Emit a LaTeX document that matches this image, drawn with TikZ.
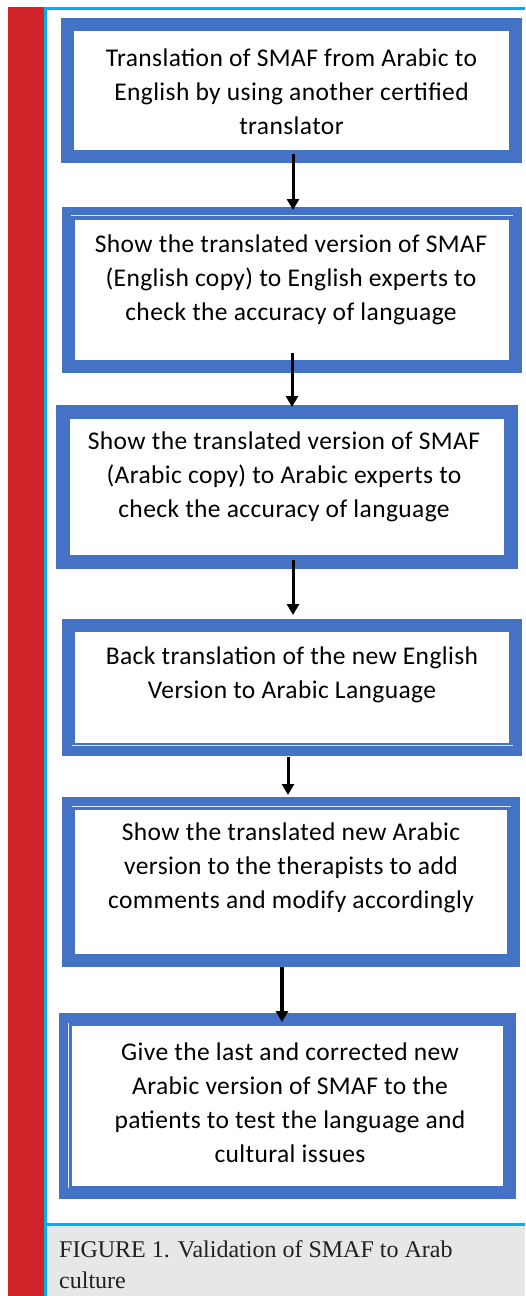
\documentclass[tikz,border=0pt]{standalone}
\usepackage{fontspec}
\setmainfont{Carlito}[LetterSpace=1.5]
\newfontfamily\capfont{Liberation Serif}
\usetikzlibrary{arrows.meta}
\definecolor{boxblue}{HTML}{4472C4}
\definecolor{barred}{HTML}{D0232A}
\definecolor{rulecyan}{HTML}{00B0F0}
\definecolor{capgray}{HTML}{E6E7E8}
\definecolor{captext}{HTML}{231F20}
\tikzset{
  flowbox/.style={draw=boxblue, line width=13pt, fill=white, inner sep=0pt},
  boxtext/.style={align=center, inner sep=0pt, text=black, font=\fontsize{25.5}{34}\selectfont},
  flowarrow/.style={draw=black, line width=3pt, -{Triangle[width=12pt,length=11pt]}},
  thinline/.style={draw=white!85!boxblue, line width=1pt}
}
\begin{document}
\begin{tikzpicture}[x=1pt,y=-1pt]
\useasboundingbox (0,0) rectangle (525,1296);
\fill[white] (0,0) rectangle (525,1296);
% left red bar and frame
\fill[barred] (8,7) rectangle (44,1296);
\fill[rulecyan] (44,7) rectangle (525,9.5);
\fill[rulecyan] (44,7) rectangle (46.5,1296);
\fill[rulecyan] (46.5,1222.5) rectangle (525,1226);
\fill[capgray] (46.5,1226) rectangle (525,1296);

% boxes
\node[flowbox, minimum width=448pt, minimum height=132pt] (b1) at (291.5,90.5) {};
\node[flowbox, minimum width=447pt, minimum height=153pt] (b2) at (292,290) {};
\node[flowbox, minimum width=448pt, minimum height=150pt, line width=14pt] (b3) at (287,487) {};
\node[flowbox, minimum width=447pt, minimum height=124pt] (b4) at (292,687.5) {};
\node[flowbox, minimum width=445pt, minimum height=157pt] (b5) at (291,882) {};
\node[flowbox, minimum width=444pt, minimum height=173pt] (b6) at (287.5,1106) {};

% thin inner lines of the borders
\draw[thinline] ([xshift=9pt,yshift=-8.5pt]b2.north west) -- ([xshift=-9pt,yshift=-8.5pt]b2.north east);
\draw[thinline] ([xshift=10pt,yshift=11pt]b4.south west) -- ([xshift=-9pt,yshift=11pt]b4.south east);
\draw[thinline] ([xshift=10pt,yshift=-9pt]b5.north west) -- ([xshift=-9pt,yshift=-9pt]b5.north east);
\draw[thinline] ([xshift=9pt,yshift=-10pt]b6.north west) -- ([xshift=9pt,yshift=11pt]b6.south west);

% texts
\node[boxtext] (t1) at (291.5,92) {Translation of SMAF from Arabic to\\English by using another certified\\translator};
\node[boxtext] (t2) at (291,280) {Show the translated version of SMAF\\(English copy) to English experts to\\check the accuracy of language};
\node[boxtext] (t3) at (284,477) {Show the translated version of SMAF\\(Arabic copy) to Arabic experts to\\check the accuracy of language};
\node[boxtext] (t4) at (292,674.5) {Back translation of the new English\\Version to Arabic Language};
\node[boxtext] (t5) at (291,868) {Show the translated new Arabic\\version to the therapists to add\\comments and modify accordingly};
\node[boxtext] (t6) at (290,1102.5) {Give the last and corrected new\\Arabic version of SMAF to the\\patients to test the language and\\cultural issues};

% arrows
\coordinate (x1) at (293,0);
\coordinate (x2) at (292,0);
\coordinate (x3) at (293,0);
\coordinate (x4) at (288,0);
\coordinate (x5) at (282,0);
\draw[flowarrow] ([yshift=9pt]b1.south -| x1) -- ([yshift=-3pt]b2.north -| x1);
\draw[flowarrow] ([yshift=20pt]b2.south -| x2) -- ([yshift=-2pt]b3.north -| x2);
\draw[flowarrow] ([yshift=9pt]b3.south -| x3) -- ([yshift=4pt]b4.north -| x3);
\draw[flowarrow] ([yshift=-1pt]b4.south -| x4) -- ([yshift=2pt]b5.north -| x4);
\draw[flowarrow, line width=4.5pt] (b5.south -| x5) -- ([yshift=-9pt]b6.north -| x5);

% caption
\node[anchor=north west, align=left, inner sep=0pt, text=captext,
      font=\capfont\fontsize{24}{31}\selectfont] (cap) at (59,1240.5)
  {FIGURE 1. Validation of SMAF to Arab\\culture};
\end{tikzpicture}
\end{document}
